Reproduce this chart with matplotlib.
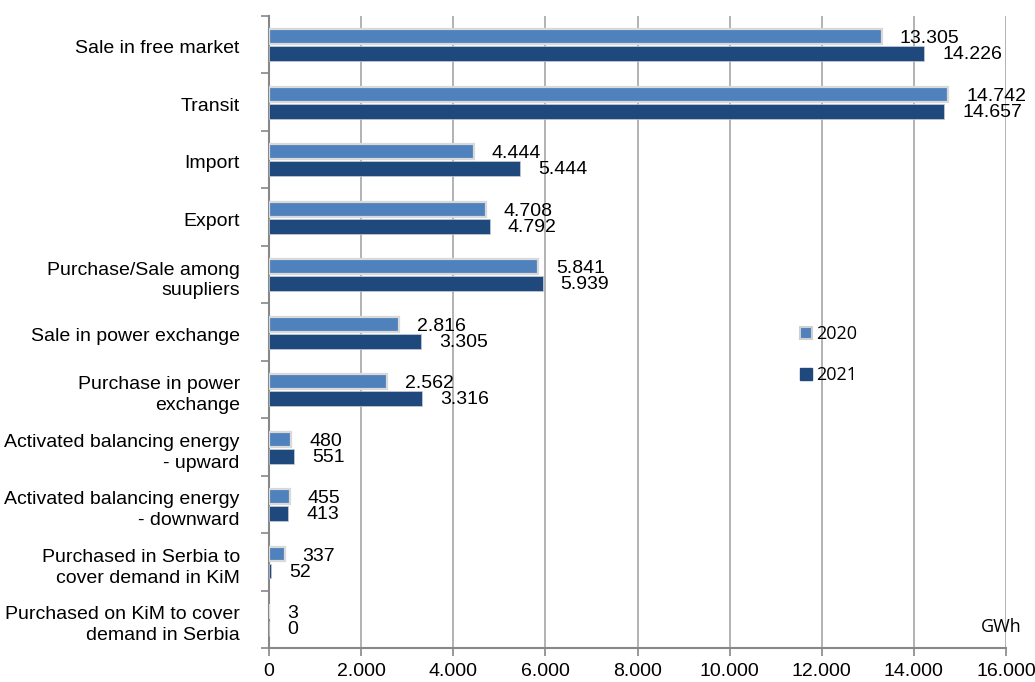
import matplotlib.pyplot as plt
import matplotlib.transforms as mtransforms
from matplotlib.lines import Line2D

# data
categories = ['Sale in free market', 'Transit', 'Import', 'Export',
              'Purchase/Sale among\nsuupliers', 'Sale in power exchange',
              'Purchase in power\nexchange', 'Activated balancing energy\n- upward',
              'Activated balancing energy\n- downward', 'Purchased in Serbia to\ncover demand in KiM',
              'Purchased on KiM to cover\ndemand in Serbia']
y2020 = [13305, 14742, 4444, 4708, 5841, 2816, 2562, 480, 455, 337, 3]
y2021 = [14226, 14657, 5444, 4792, 5939, 3305, 3316, 551, 413, 52, 0]
xticks = [0, 2000, 4000, 6000, 8000, 10000, 12000, 14000, 16000]

c2020 = '#4F81BD'
c2021 = '#1F497D'
fnt = ['Liberation Sans', 'DejaVu Sans']

def fmt(v):
    return f'{v:,}'.replace(',', '.')

W, H = 1035, 682
fig = plt.figure(figsize=(W / 100, H / 100), dpi=100)
ax = fig.add_axes([269 / W, 1 - 648 / H, 737 / W, 632 / H])

pos = list(range(len(categories)))
h = 0.26
p1 = [p - 0.136 for p in pos]
p2 = [p + 0.16 for p in pos]
ax.barh(p1, y2020, height=h, color=c2020, edgecolor='#D9D9D9', linewidth=1.6, zorder=3)
ax.barh(p2, y2021, height=h, color=c2021, edgecolor='#C8CDD6', linewidth=0.5, zorder=3)

for y, v in zip(p1, y2020):
    ax.annotate(fmt(v), (v, y), xytext=(18, -2), textcoords='offset pixels',
                va='center', ha='left', fontsize=14, family=fnt, zorder=4)
for y, v in zip(p2, y2021):
    ax.annotate(fmt(v), (v, y), xytext=(18, -1), textcoords='offset pixels',
                va='center', ha='left', fontsize=14, family=fnt, zorder=4)

ax.set_xlim(0, 16000)
ax.set_ylim(len(categories) - 0.5, -0.5)
ax.set_xticks(xticks)
ax.set_xticklabels([fmt(t) for t in xticks], family=fnt, fontsize=14)
ax.set_yticks(pos)
ax.set_yticklabels(categories, family=fnt, fontsize=14, linespacing=1.3)
ax.set_yticks([p - 0.5 for p in pos] + [len(categories) - 0.5], minor=True)
ax.tick_params(axis='y', which='major', length=0, pad=21)
ax.tick_params(axis='y', which='minor', length=6, color='#888888', width=1.2)
ax.tick_params(axis='x', length=6, color='#888888', width=1.2, pad=5)
shift = mtransforms.ScaledTranslation(0, -2 / 100, fig.dpi_scale_trans)
for lbl in ax.get_yticklabels():
    lbl.set_transform(lbl.get_transform() + shift)

ax.grid(axis='x', color='#A6A6A6', linewidth=1.2, zorder=0)
for s in ['top', 'right']:
    ax.spines[s].set_visible(False)
for s in ['left', 'bottom']:
    ax.spines[s].set_color('#888888')
    ax.spines[s].set_linewidth(1.5)

handles = [Line2D([], [], marker='s', linestyle='', markersize=8, markerfacecolor=c2020,
                  markeredgecolor='#D0D0D0', markeredgewidth=1.5, label='2020'),
           Line2D([], [], marker='s', linestyle='', markersize=8, markerfacecolor=c2021,
                  markeredgecolor=c2021, label='2021')]
fig.legend(handles=handles, loc='center left', bbox_to_anchor=(0.758, 0.48),
           frameon=False, labelspacing=1.25, handlelength=0.6,
           handletextpad=0.25, prop={'family': ['Open Sans', 'DejaVu Sans'], 'size': 13})

fig.text(1022 / W, 1 - 627 / H, 'GWh', ha='right', va='center', fontsize=13,
         family=['Open Sans', 'DejaVu Sans'])

fig.savefig('out.png', dpi=100)
